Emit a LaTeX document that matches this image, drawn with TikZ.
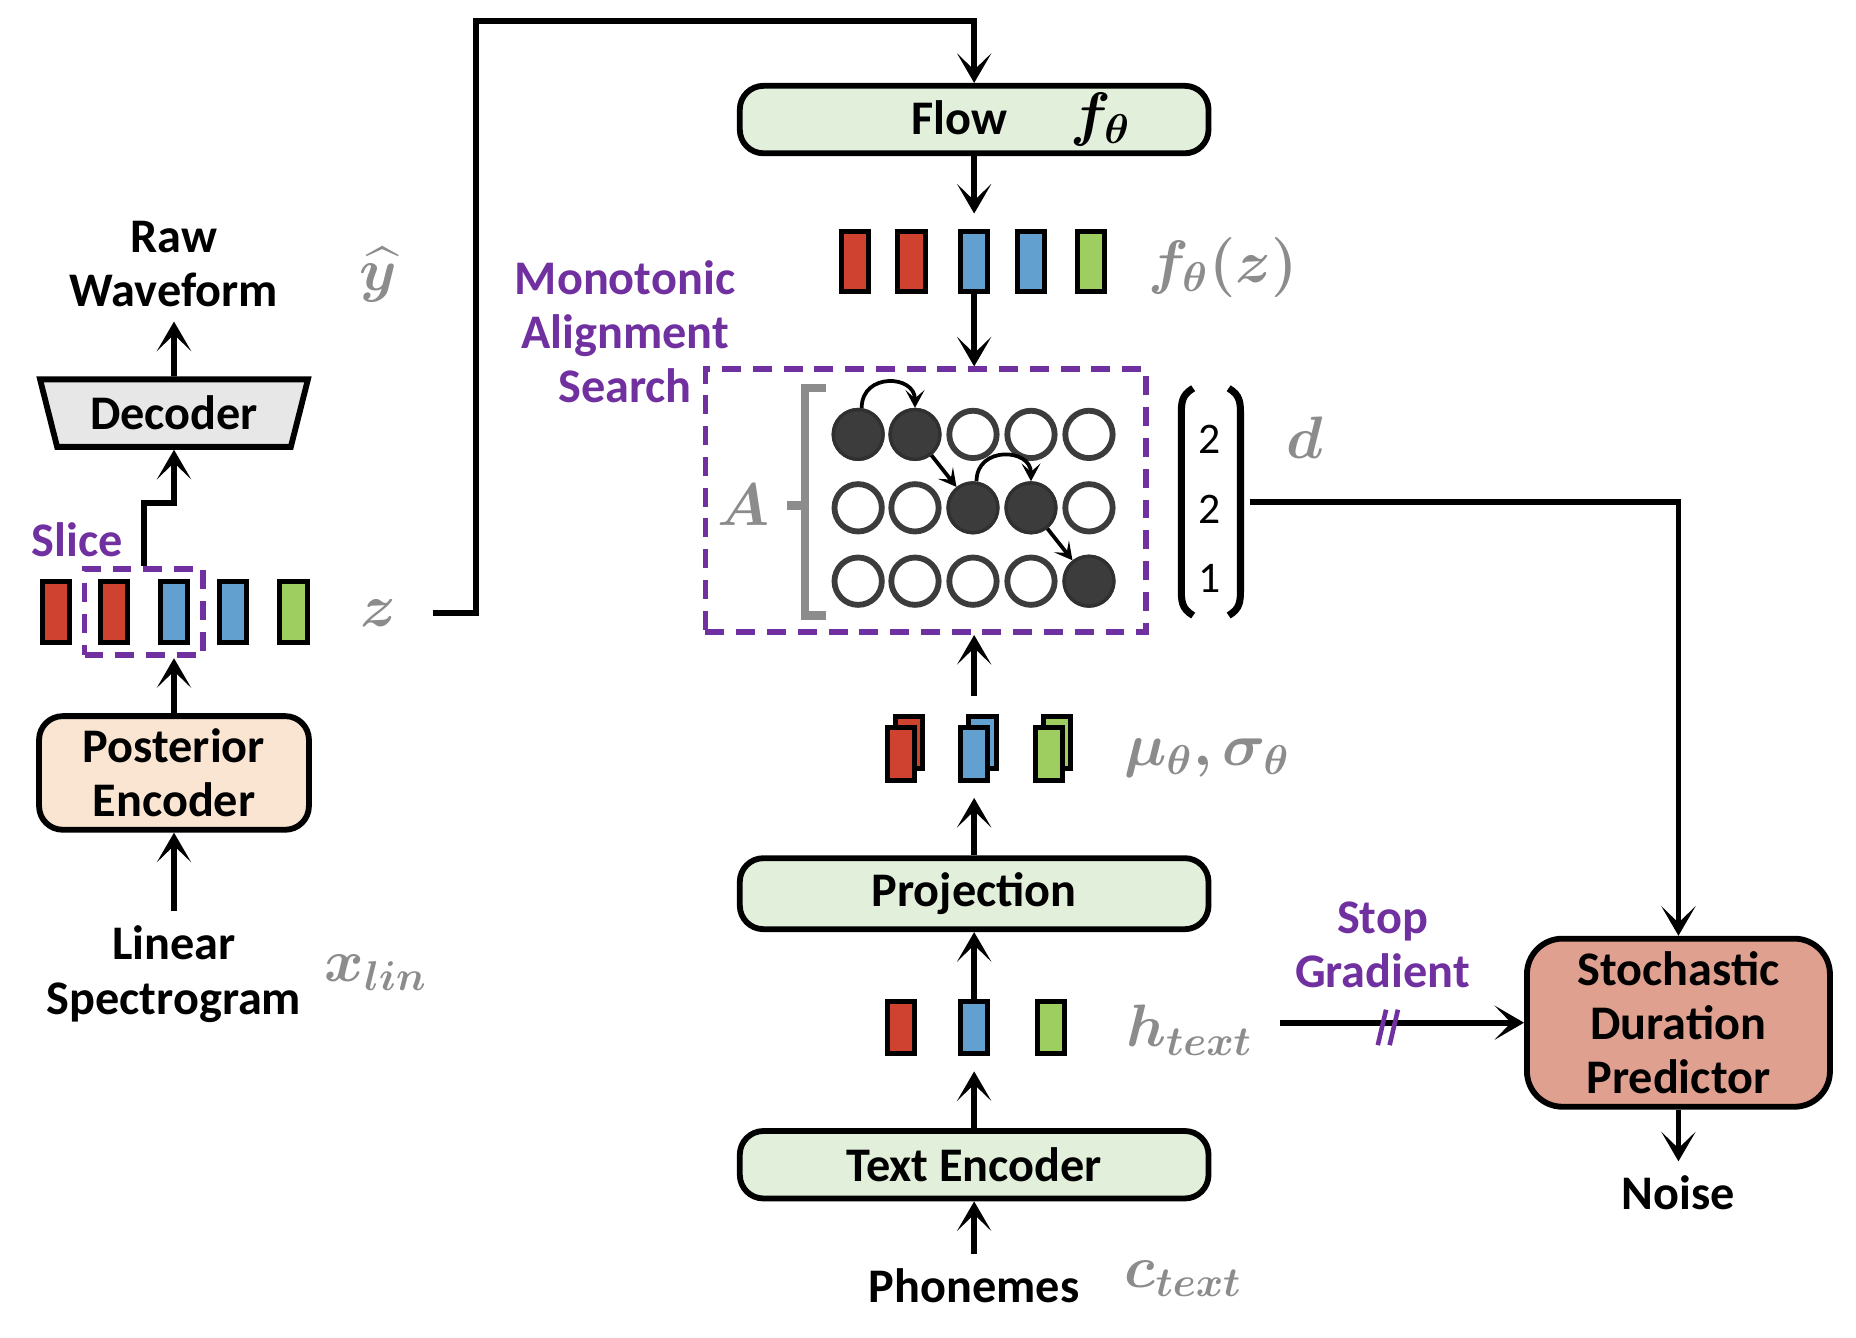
\documentclass[tikz,border=0pt]{standalone}
\usepackage{amsmath,amssymb,bm}
\usepackage{fontspec}
\setmainfont{Carlito}
\usetikzlibrary{arrows.meta,positioning,calc,fit,shapes.geometric}

\definecolor{barred}{RGB}{208,66,48}
\definecolor{barblue}{RGB}{98,160,208}
\definecolor{bargreen}{RGB}{158,206,96}
\definecolor{maspurple}{RGB}{112,48,160}
\definecolor{symgray}{RGB}{140,140,140}
\definecolor{boxgreen}{RGB}{226,239,218}
\definecolor{boxpeach}{RGB}{249,229,210}
\definecolor{boxsalmon}{RGB}{224,160,144}
\definecolor{boxgray}{RGB}{231,231,231}
\definecolor{dotgray}{RGB}{60,60,60}

\begin{document}
\begin{tikzpicture}[x=0.1mm,y=-0.1mm,
  font=\bfseries\fontsize{11.6}{13}\selectfont,
  >={Stealth[length=2.5mm,width=2.9mm,inset=1.4mm]},
  flowline/.style={line width=1.4pt,->},
  block/.style={draw,line width=1.4pt,rounded corners=2mm,fill=boxgreen,
    minimum width=39.6mm,minimum height=5.7mm,inner sep=0pt,align=center},
  bar/.style={draw,line width=1.2pt,minimum width=2.3mm,minimum height=5.1mm,inner sep=0pt},
  stackbar/.style={bar,minimum height=4.4mm},
  sym/.style={text=symgray,font=\fontsize{14}{16}\selectfont},
  purp/.style={text=maspurple,align=center},
  dot/.style={circle,draw=dotgray,line width=1.4pt,minimum size=4mm,inner sep=0pt,fill=white},
  dotarrow/.style={line width=0.9pt,-{Stealth[length=1.5mm,width=1.6mm,inset=0.7mm]}},
  masbox/.style={draw=maspurple,line width=1.4pt,dash pattern=on 1.6mm off 1mm}]
\useasboundingbox (0,0) rectangle (1568,1130);

% left column: posterior encoder and decoder
\node[align=center] (raw) at (147,223) {Raw\\Waveform};
\node[trapezium,shape border rotate=180,trapezium angle=77,trapezium stretches=true,
  draw,fill=boxgray,line width=1.4pt,minimum width=22.7mm,minimum height=5.7mm] (dec) at (147,349) {Decoder};
\foreach \i/\xx/\cc in {1/47/barred,2/96/barred,3/147/barblue,4/197/barblue,5/248/bargreen}
  \node[bar,fill=\cc] (z\i) at (\xx,517) {};
\node[masbox,fit=(z2)(z3),inner xsep=1.1mm,inner ysep=0.9mm] (slice) {};
\node[purp] (slicelab) at (65,456) {Slice};
\node[block,fill=boxpeach,minimum width=22.8mm,minimum height=9.6mm] (post) at (147,653) {Posterior\\Encoder};
\node[align=center] (lin) at (147,823) {Linear\\Spectrogram};

\node[sym] (yhat) at (320,232) {$\bm{\widehat{y}}$};
\node[sym] (zlab) at (320,518) {$\bm{z}$};
\node[sym] (xlin) at (318,822) {$\bm{x_{lin}}$};

\draw[flowline] (lin.north) -- (post.south);
\draw[flowline] (post.north) -- (post.north |- slice.south);
\draw[flowline] (slice.north) -- ++(0,-53) -| (dec.south);
\draw[flowline] (dec.north) -- (raw.south);

% centre column
\node[block] (flow) at (823,101) {\hspace*{8mm}Flow\hspace{1.3em}{\fontsize{14}{16}\selectfont$\bm{f_\theta}$}};
\foreach \i/\xx/\cc in {1/722,2/770,3/823,4/871,5/922}
  \node[bar,fill=\ifnum\i<3 barred\else\ifnum\i<5 barblue\else bargreen\fi\fi] (fz\i) at (\xx,221) {};
\node[sym] (fzlab) at (1033,226) {$\bm{f_\theta(z)}$};
\draw[flowline,shorten >=1.3mm] (flow.south) -- (fz3.north);

% z goes up to the flow
\coordinate (ztop) at (402,18);
\draw[flowline] ([xshift=1.8mm]zlab.east) -| (ztop) -| (flow.north);

\node[masbox,minimum width=37.2mm,minimum height=22.2mm] (mas) at (782,423) {};
\node[purp] (maslab) at (528,280) {Monotonic\\Alignment\\Search};
\draw[flowline] (fz3.south) -- (fz3.south |- mas.north);

\foreach \r/\yy in {1/367,2/429,3/491}
  \foreach \c/\xx in {1/725,2/773,3/822,4/871,5/920}
    \node[dot] (c\r\c) at (\xx,\yy) {};
\foreach \n in {11,12,23,24,35}
  \filldraw[fill=dotgray,draw=dotgray!80!black,line width=0.8pt] (c\n.center) circle (2.1mm);
\draw[dotarrow] ([xshift=0.3mm]c11.north) .. controls +(0,-30) and +(0,-28) .. (c12.north);
\draw[dotarrow] ([xshift=0.3mm]c23.north) .. controls +(0,-30) and +(0,-28) .. (c24.north);
\draw[dotarrow] (c12) -- (c23);
\draw[dotarrow] (c24) -- (c35);

% alignment matrix A
\draw[symgray,line width=2pt] (698,328) -- (680,328) -- (680,520) -- (698,520) (680,427) -- (665,427);
\node[sym] (alab) at (628,427) {$\bm{A}$};

% durations d
\node[font=\mdseries\fontsize{10.5}{12}\selectfont] (d1) at (1022,371) {2};
\node[font=\mdseries\fontsize{10.5}{12}\selectfont] (d2) at (1022,430) {2};
\node[font=\mdseries\fontsize{10.5}{12}\selectfont] (d3) at (1022,489) {1};
\draw[line width=1.7pt] (1008,328) .. controls (998,334) and (998,340) .. (998,352) -- (998,496)
  .. controls (998,508) and (998,514) .. (1008,520);
\draw[line width=1.7pt] (1038,328) .. controls (1048,334) and (1048,340) .. (1048,352) -- (1048,496)
  .. controls (1048,508) and (1048,514) .. (1038,520);
\node[fit={(998,328) (1048,520)},inner sep=0pt] (dvec) {};
\node[sym] (dlab) at (1102,370) {$\bm{d}$};

% prior side
\foreach \i/\xx/\cc in {1/761/barred,2/823/barblue,3/886/bargreen}{
  \node[stackbar,fill=\cc] (mub\i) at (\xx+7,627) {};
  \node[stackbar,fill=\cc] (mu\i) at (\xx,637) {};
}
\node[sym] (mulab) at (1020,640) {$\bm{\mu_\theta,\sigma_\theta}$};
\draw[flowline] ([yshift=1.5mm]mub2.north -| mu2.north) -- (mu2.north |- mas.south);

\node[block,minimum height=6mm] (proj) at (823,755) {Projection};
\draw[flowline,shorten >=1.3mm] (proj.north) -- (mu2.south);

\foreach \i/\xx/\cc in {1/761/barred,2/823/barblue,3/888/bargreen}
  \node[stackbar] [fill=\cc] (h\i) at (\xx,868) {};
\node[sym] (hlab) at (1005,870) {$\bm{h_{text}}$};
\draw[flowline] (h2.north) -- (proj.south);

\node[block] (tenc) at (823,984) {Text Encoder};
\draw[flowline,shorten >=1.3mm] (tenc.north) -- (h2.south);
\node (phon) at (823,1086) {Phonemes};
\node[sym] (ctext) at (1000,1080) {$\bm{c_{text}}$};
\draw[flowline] (phon.north) -- (tenc.south);

% duration predictor
\node[block,fill=boxsalmon,minimum width=25.6mm,minimum height=14.2mm,rounded corners=3mm] (sdp) at (1418,864) {Stochastic\\Duration\\Predictor};
\node (noise) at (1418,1008) {Noise};
\draw[flowline] (sdp.south) -- (noise.north);
\draw[flowline] ([xshift=0.7mm]dvec.east) -| (sdp.north);
\draw[flowline] ([xshift=1mm]hlab.east |- sdp.west) -- (sdp.west);
\node[purp] (stoplab) at (1168,798) {Stop\\Gradient};
\draw[maspurple,line width=1.1pt] (1164,883) -- (1171,853) (1174,883) -- (1181,853);
\end{tikzpicture}
\end{document}
